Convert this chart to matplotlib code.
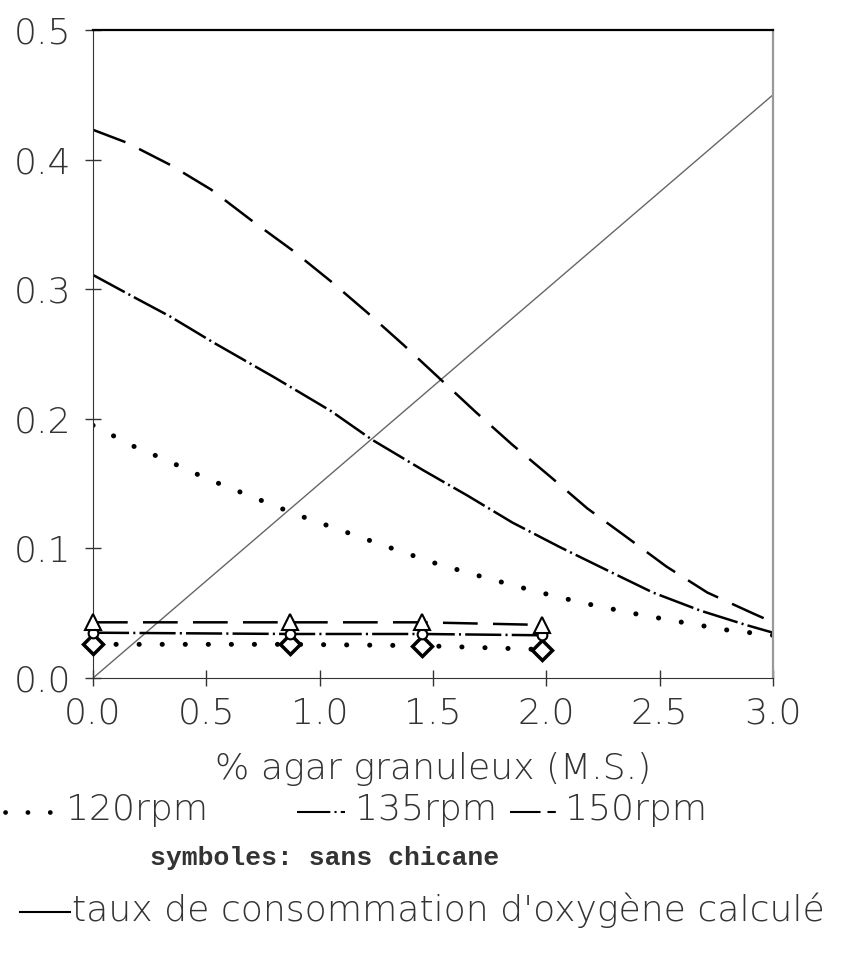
import numpy as np
import matplotlib
matplotlib.use("Agg")
import matplotlib.pyplot as plt
from matplotlib.lines import Line2D

plt.rcParams['font.family'] = ['DejaVu Sans']
plt.rcParams['font.weight'] = 'light'
plt.rcParams['axes.labelweight'] = 'light'
plt.rcParams['lines.scale_dashes'] = False

# model curves
x120 = [0.0, 0.10, 0.20, 0.30, 0.50, 0.70, 0.90, 1.11, 1.32, 1.52, 1.74, 1.95, 2.16, 2.38, 2.60, 2.80, 3.0]
y120 = [0.195, 0.186, 0.177, 0.170, 0.154, 0.140, 0.126, 0.113, 0.100, 0.088, 0.077, 0.067, 0.058, 0.050, 0.043, 0.037, 0.033]

x135 = [0.0, 0.19, 0.34, 0.53, 0.80, 1.05, 1.23, 1.46, 1.65, 1.85, 2.06, 2.27, 2.47, 2.68, 2.88, 3.0]
y135 = [0.311, 0.293, 0.279, 0.259, 0.232, 0.206, 0.184, 0.160, 0.141, 0.120, 0.101, 0.083, 0.066, 0.052, 0.041, 0.035]

x150 = [0.0, 0.15, 0.34, 0.52, 0.70, 0.88, 1.05, 1.21, 1.37, 1.53, 1.69, 1.85, 2.02, 2.18, 2.36, 2.53, 2.71, 2.91, 3.0]
y150 = [0.423, 0.413, 0.396, 0.377, 0.353, 0.330, 0.306, 0.282, 0.257, 0.231, 0.205, 0.180, 0.155, 0.131, 0.108, 0.086, 0.066, 0.050, 0.043]

# calculated oxygen uptake rate
x_otr = [0.0, 3.0]
y_otr = [0.0, 0.45]

# measured points, no baffle
x_pts = [0.0, 0.87, 1.45, 1.98]
pts120 = [0.026, 0.026, 0.025, 0.022]
pts135 = [0.035, 0.034, 0.034, 0.033]
pts150 = [0.043, 0.043, 0.043, 0.041]

xticks = [0.0, 0.5, 1.0, 1.5, 2.0, 2.5, 3.0]
yticks = [0.0, 0.1, 0.2, 0.3, 0.4, 0.5]

dot_style = (0, (0.1, 16.5))
dashdot_style = (0, (26, 3, 1.5, 3))
dash_style = (0, (25, 11))
txt_color = '#333333'
fs = 26

fig = plt.figure(figsize=(8.57, 9.55), dpi=100)
ax = fig.add_axes([0.1085, 0.290, 0.7935, 0.6786])

ax.plot(x_otr, y_otr, color='#666666', lw=1.0)
ax.plot(x120, y120, color='black', lw=3.6, ls=dot_style, dash_capstyle='round')
ax.plot(x135, y135, color='black', lw=1.8, ls=dashdot_style)
ax.plot(x150, y150, color='black', lw=1.8, ls=dash_style)

ax.plot(x_pts, pts120, color='black', lw=3.6, ls=dot_style, dash_capstyle='round',
        marker='D', ms=10, mfc='white', mec='black', mew=2.5, clip_on=False, zorder=4)
ax.plot(x_pts, pts135, color='black', lw=1.8, ls=dashdot_style,
        marker='o', ms=7, mfc='white', mec='black', mew=1.5, clip_on=False, zorder=4)
ax.plot(x_pts, pts150, color='black', lw=1.8, ls=dash_style,
        marker='^', ms=11, mfc='white', mec='black', mew=1.5, clip_on=False, zorder=4)

ax.set_xlim(0, 3.0)
ax.set_ylim(0, 0.5)
ax.set_xticks(xticks)
ax.set_yticks(yticks)
ax.set_xticklabels(['%.1f' % v for v in xticks])
ax.set_yticklabels(['%.1f' % v for v in yticks])
ax.tick_params(direction='inout', length=12, width=1, labelsize=fs, colors=txt_color)
ax.tick_params(axis='y', pad=10)
ax.tick_params(axis='x', pad=7)

ax.spines['top'].set_color('black')
ax.spines['top'].set_linewidth(1.6)
ax.spines['right'].set_color('#999999')
ax.spines['right'].set_linewidth(1.6)
ax.spines['left'].set_color('#333333')
ax.spines['bottom'].set_color('#333333')

ax.set_xlabel('% agar granuleux (M.S.)', fontsize=fs, fontweight='light',
              color=txt_color, labelpad=16)

# legend text underneath
def fy(py):
    return 1 - py / 955.0

def fx(px):
    return px / 857.0

fig.add_artist(Line2D([fx(5), fx(60)], [fy(812)] * 2, transform=fig.transFigure,
                      color='black', lw=3.4, ls=(0, (0.1, 16)), dash_capstyle='round'))
fig.text(fx(66), fy(810), '120rpm', fontsize=fs, color=txt_color, va='center')
fig.add_artist(Line2D([fx(297), fx(345)], [fy(812)] * 2, transform=fig.transFigure,
                      color='black', lw=1.5, ls=(0, (24, 3, 1.5, 3, 4, 20))))
fig.text(fx(355), fy(810), '135rpm', fontsize=fs, color=txt_color, va='center')
fig.add_artist(Line2D([fx(510), fx(556)], [fy(812)] * 2, transform=fig.transFigure,
                      color='black', lw=1.5, ls=(0, (22, 5, 6, 5))))
fig.text(fx(565), fy(810), '150rpm', fontsize=fs, color=txt_color, va='center')

fig.text(fx(150), fy(858), 'symboles: sans chicane', fontsize=19, fontweight='bold',
         family='Liberation Mono', va='center', color=txt_color)

fig.add_artist(Line2D([fx(20), fx(70)], [fy(912)] * 2, transform=fig.transFigure,
                      color='black', lw=1.5))
fig.text(fx(72), fy(910), "taux de consommation d'oxyg\u00e8ne calcul\u00e9", fontsize=fs,
         color=txt_color, va='center')

plt.savefig('out.png', dpi=100)
